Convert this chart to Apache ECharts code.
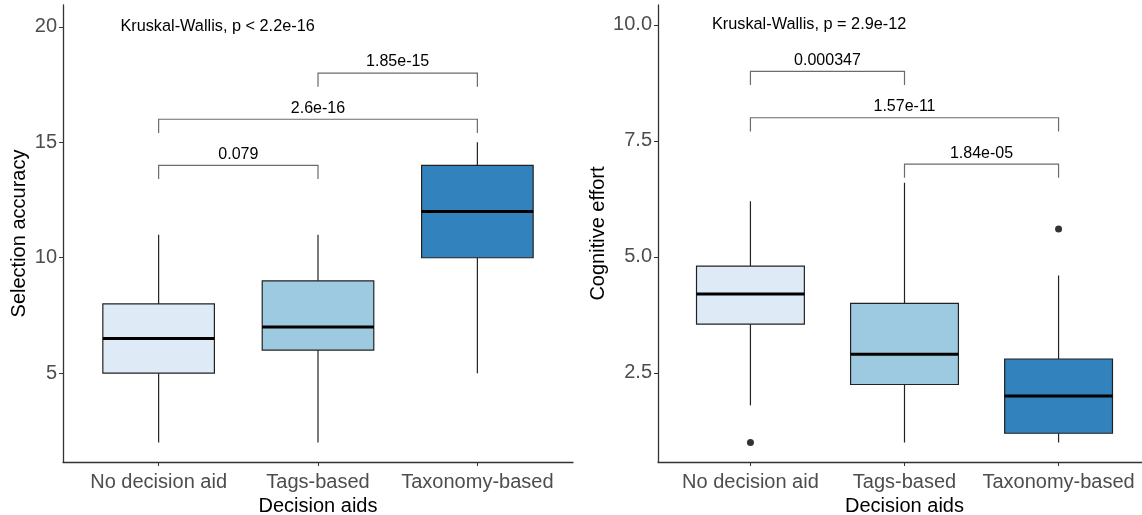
<!DOCTYPE html>
<html>
<head>
<meta charset="utf-8">
<script src="https://cdn.jsdelivr.net/npm/echarts@6/dist/echarts.min.js"></script>
<style>
  html, body { margin: 0; padding: 0; background: #fff; }
  #chart { width: 1142px; height: 515px; }
</style>
</head>
<body>
<div id="chart"></div>
<script>
var categories = ['No decision aid', 'Tags-based', 'Taxonomy-based'];
var boxColors = ['#deebf7', '#9ecae1', '#3182bd'];

// [min, Q1, median, Q3, max]
var accuracyBoxes = [
  [2, 5, 6.5, 8, 11],
  [2, 6, 7, 9, 11],
  [5, 10, 12, 14, 15]
];
var effortBoxes = [
  [1.8, 3.55, 4.2, 4.8, 6.2],
  [1.0, 2.25, 2.9, 4.0, 6.6],
  [1.0, 1.2, 2.0, 2.8, 4.6]
];
var effortOutliers = [[1, 1.0], [3, 5.6]];

// [from, to, height, label]
var accuracyPairs = [
  [1, 2, 14, '0.079'],
  [1, 3, 16, '2.6e-16'],
  [2, 3, 18, '1.85e-15']
];
var effortPairs = [
  [1, 2, 9, '0.000347'],
  [1, 3, 8, '1.57e-11'],
  [2, 3, 7, '1.84e-05']
];
var accuracyTicks = [5, 10, 15, 20];
var effortTicks = [2.5, 5, 7.5, 10];
var kwText = ['Kruskal-Wallis, p < 2.2e-16', 'Kruskal-Wallis, p = 2.9e-12'];

var FONT = '"Liberation Sans", Arial, sans-serif';
var yRanges = [[1.15, 20.95], [0.58, 10.43]];

function boxSeries(idx, boxes) {
  return {
    type: 'custom',
    xAxisIndex: idx, yAxisIndex: idx,
    data: boxes.map(function (b, i) { return [i + 1].concat(b); }),
    renderItem: function (params, api) {
      var x = api.value(0);
      var w = api.size([1, 0])[0] * 0.7;
      var pMin = api.coord([x, api.value(1)]);
      var pQ1 = api.coord([x, api.value(2)]);
      var pMed = api.coord([x, api.value(3)]);
      var pQ3 = api.coord([x, api.value(4)]);
      var pMax = api.coord([x, api.value(5)]);
      var cx = pMin[0];
      var line = { stroke: '#222', lineWidth: 1.2 };
      return {
        type: 'group',
        children: [
          { type: 'line', shape: { x1: cx, y1: pMin[1], x2: cx, y2: pQ1[1] }, style: line },
          { type: 'line', shape: { x1: cx, y1: pQ3[1], x2: cx, y2: pMax[1] }, style: line },
          { type: 'rect', shape: { x: cx - w / 2, y: pQ3[1], width: w, height: pQ1[1] - pQ3[1] },
            style: { fill: boxColors[params.dataIndex], stroke: '#222', lineWidth: 1.2 } },
          { type: 'line', shape: { x1: cx - w / 2, y1: pMed[1], x2: cx + w / 2, y2: pMed[1] },
            style: { stroke: '#000', lineWidth: 3 } }
        ]
      };
    }
  };
}

function bracketSeries(idx, pairs) {
  var r = yRanges[idx];
  var tip = (r[1] - r[0]) * 0.03;
  return {
    type: 'custom',
    xAxisIndex: idx, yAxisIndex: idx,
    data: pairs.map(function (p) { return [p[0], p[1], p[2]]; }),
    renderItem: function (params, api) {
      var y = api.value(2);
      var a = api.coord([api.value(0), y]);
      var b = api.coord([api.value(1), y]);
      var aT = api.coord([api.value(0), y - tip]);
      var st = { stroke: '#6b6b6b', lineWidth: 1.2, fill: null };
      return {
        type: 'group',
        children: [
          { type: 'polyline', shape: { points: [[a[0], aT[1]], a, b, [b[0], aT[1]]] }, style: st },
          { type: 'text', style: { text: pairs[params.dataIndex][3], x: (a[0] + b[0]) / 2, y: a[1] - 3,
            align: 'center', verticalAlign: 'bottom', fill: '#000', font: '16px ' + FONT } }
        ]
      };
    }
  };
}

function kwSeries(idx, xy) {
  return {
    type: 'custom',
    xAxisIndex: idx, yAxisIndex: idx,
    data: [xy],
    renderItem: function (params, api) {
      var p = api.coord([api.value(0), api.value(1)]);
      return { type: 'text', style: { text: kwText[idx], x: p[0], y: p[1],
        align: 'left', verticalAlign: 'middle', fill: '#000', font: '16.3px ' + FONT } };
    }
  };
}

function xAxisCfg(idx) {
  return {
    type: 'value', gridIndex: idx, min: 0.4, max: 3.6,
    name: 'Decision aids', nameLocation: 'middle', nameGap: 34, nameMoveOverlap: false,
    nameTextStyle: { color: '#000', fontSize: 20, fontFamily: FONT },
    axisLine: { lineStyle: { color: '#333', width: 1.3 } },
    axisTick: { customValues: [1, 2, 3], length: 4, lineStyle: { color: '#333' } },
    axisLabel: { customValues: [1, 2, 3], color: '#4d4d4d', fontSize: 20, fontFamily: FONT, margin: 10,
      formatter: function (v) { return categories[Math.round(v) - 1]; } },
    splitLine: { show: false }
  };
}

function yAxisCfg(idx, name, ticks, fmt, gap) {
  return {
    type: 'value', gridIndex: idx, min: yRanges[idx][0], max: yRanges[idx][1],
    name: name, nameLocation: 'middle', nameGap: gap, nameMoveOverlap: false,
    nameTextStyle: { color: '#000', fontSize: 20, fontFamily: FONT },
    axisLine: { show: true, lineStyle: { color: '#333', width: 1.3 } },
    axisTick: { show: true, customValues: ticks, length: 4, lineStyle: { color: '#333' } },
    axisLabel: { customValues: ticks, color: '#4d4d4d', fontSize: 20, fontFamily: FONT, margin: 6,
      formatter: fmt },
    splitLine: { show: false }
  };
}

var chart = echarts.init(document.getElementById('chart'));
chart.setOption({
  animation: false,
  backgroundColor: '#fff',
  grid: [
    { left: 63, top: 5, width: 510, height: 457, outerBoundsMode: 'none' },
    { left: 658, top: 5, width: 493, height: 457, outerBoundsMode: 'none' }
  ],
  xAxis: [xAxisCfg(0), xAxisCfg(1)],
  yAxis: [
    yAxisCfg(0, 'Selection accuracy', accuracyTicks, function (v) { return String(v); }, 34),
    yAxisCfg(1, 'Cognitive effort', effortTicks, function (v) { return v.toFixed(1); }, 50)
  ],
  series: [
    boxSeries(0, accuracyBoxes),
    boxSeries(1, effortBoxes),
    {
      type: 'scatter', xAxisIndex: 1, yAxisIndex: 1,
      data: effortOutliers, symbolSize: 7, itemStyle: { color: '#000' }
    },
    bracketSeries(0, accuracyPairs),
    bracketSeries(1, effortPairs),
    kwSeries(0, [0.76, 20]),
    kwSeries(1, [0.75, 10])
  ]
});
</script>
</body>
</html>
